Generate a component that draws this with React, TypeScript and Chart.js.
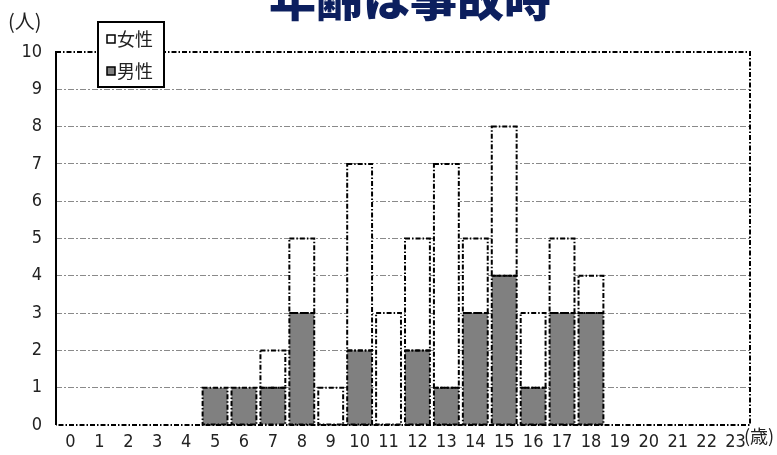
import { useEffect, useRef } from "react";
import { Chart, registerables } from "chart.js";

Chart.register(...registerables);

// Ages (years) on the horizontal axis
const ages = [
  "0", "1", "2", "3", "4", "5", "6", "7", "8", "9", "10", "11",
  "12", "13", "14", "15", "16", "17", "18", "19", "20", "21", "22", "23",
];

// Number of people by age
const femaleCounts = [0, 0, 0, 0, 0, 0, 0, 1, 2, 1, 5, 3, 3, 6, 2, 4, 2, 2, 1, 0, 0, 0, 0, 0];
const maleCounts = [0, 0, 0, 0, 0, 1, 1, 1, 3, 0, 2, 0, 2, 1, 3, 4, 1, 3, 3, 0, 0, 0, 0, 0];

const femaleLabel = "女性";
const maleLabel = "男性";
const titleText = "年齢は事故時";
const yUnit = "(人)";
const xUnit = "(歳)";
const yMax = 10;

const NUM_FONT = '"Liberation Sans Narrow", "DejaVu Sans Condensed", sans-serif';
const CJK_FONT = '"Noto Sans CJK JP", "Noto Sans", sans-serif';
const DASH_DOT = [5, 2, 1.5, 2];

// Dash-dot outlines around every bar segment
const barOutlinePlugin = {
  id: "barOutline",
  afterDatasetsDraw(chart: any) {
    const ctx = chart.ctx;
    ctx.save();
    ctx.strokeStyle = "#000";
    ctx.lineWidth = 2;
    ctx.setLineDash(DASH_DOT);
    chart.data.datasets.forEach((ds: any, i: number) => {
      const meta = chart.getDatasetMeta(i);
      meta.data.forEach((el: any, j: number) => {
        if (!ds.data[j]) return;
        const { x, y, base, width } = el.getProps(["x", "y", "base", "width"], true);
        ctx.strokeRect(x - width / 2, y, width, base - y);
      });
    });
    ctx.restore();
  },
};

// Plot frame: solid left axis, dash-dot on the other three sides
const framePlugin = {
  id: "frame",
  afterDatasetsDraw(chart: any) {
    const { ctx, chartArea: a } = chart;
    ctx.save();
    ctx.strokeStyle = "#000";
    ctx.lineWidth = 2;
    ctx.setLineDash(DASH_DOT);
    ctx.beginPath();
    ctx.moveTo(a.left, a.top);
    ctx.lineTo(a.right, a.top);
    ctx.lineTo(a.right, a.bottom);
    ctx.lineTo(a.left, a.bottom);
    ctx.stroke();
    ctx.setLineDash([]);
    ctx.lineWidth = 2;
    ctx.beginPath();
    ctx.moveTo(a.left, a.top - 1);
    ctx.lineTo(a.left, a.bottom);
    ctx.stroke();
    ctx.restore();
  },
};

// Title, unit captions and the boxed legend
const decorPlugin = {
  id: "decor",
  afterDraw(chart: any) {
    const { ctx, chartArea: a } = chart;
    ctx.save();

    ctx.fillStyle = "#0c1f5e";
    ctx.font = `900 47px ${CJK_FONT}`;
    ctx.textAlign = "center";
    ctx.textBaseline = "alphabetic";
    ctx.fillText(titleText, 410, 16);

    ctx.fillStyle = "#222";
    ctx.font = `20px ${CJK_FONT}`;
    ctx.textAlign = "left";
    ctx.textBaseline = "middle";
    ctx.fillText(yUnit, 8, 21);
    ctx.font = `18px ${CJK_FONT}`;
    ctx.fillText(xUnit, a.right - 6, 436);

    // legend box
    const bx = 98, by = 22, bw = 66, bh = 65;
    ctx.fillStyle = "#fff";
    ctx.fillRect(bx, by, bw, bh);
    ctx.strokeStyle = "#000";
    ctx.lineWidth = 2;
    ctx.strokeRect(bx, by, bw, bh);

    const items = [chart.data.datasets[1], chart.data.datasets[0]];
    items.forEach((ds: any, k: number) => {
      const cy = by + 17 + k * 32;
      ctx.fillStyle = ds.backgroundColor;
      ctx.fillRect(107, cy - 4, 8, 8);
      ctx.strokeStyle = "#000";
      ctx.lineWidth = 1.5;
      ctx.strokeRect(107, cy - 4, 8, 8);
      ctx.fillStyle = "#222";
      ctx.font = `18px ${CJK_FONT}`;
      ctx.textBaseline = "middle";
      ctx.fillText(ds.label, 117, cy);
    });
    ctx.restore();
  },
};

export default function App() {
  const canvasRef = useRef<HTMLCanvasElement | null>(null);

  useEffect(() => {
    const canvas = canvasRef.current;
    if (!canvas) return;
    const chart = new Chart(canvas, {
      type: "bar",
      data: {
        labels: ages,
        datasets: [
          {
            label: maleLabel,
            data: maleCounts,
            backgroundColor: "#808080",
            borderWidth: 0,
            barPercentage: 0.86,
            categoryPercentage: 1,
          },
          {
            label: femaleLabel,
            data: femaleCounts,
            backgroundColor: "#ffffff",
            borderWidth: 0,
            barPercentage: 0.86,
            categoryPercentage: 1,
          },
        ],
      },
      options: {
        responsive: false,
        animation: false,
        layout: { padding: { top: 52, right: 27, left: 0, bottom: 0 } },
        plugins: {
          legend: { display: false },
          title: { display: false },
          tooltip: { enabled: false },
        },
        scales: {
          x: {
            stacked: true,
            grid: { display: false, drawTicks: false },
            border: { display: false },
            ticks: {
              padding: 7,
              color: "#222",
              font: { family: NUM_FONT, size: 18 },
              maxRotation: 0,
              autoSkip: false,
            },
            afterFit(scale: any) {
              scale.height = 30;
            },
          },
          y: {
            stacked: true,
            min: 0,
            max: yMax,
            grid: {
              drawTicks: false,
              lineWidth: 1,
              color: (c: any) =>
                c.tick && (c.tick.value === 0 || c.tick.value === yMax)
                  ? "rgba(0,0,0,0)"
                  : "#8a8a8a",
            },
            border: { display: false, dash: [6, 2, 2, 2] },
            ticks: {
              stepSize: 1,
              padding: 14,
              color: "#222",
              font: { family: NUM_FONT, size: 18 },
            },
            afterFit(scale: any) {
              scale.width = 56;
            },
          },
        },
      },
      plugins: [barOutlinePlugin, framePlugin, decorPlugin],
    });
    return () => chart.destroy();
  }, []);

  return (
    <div style={{ position: "absolute", left: 0, top: 0, width: 777, height: 455, background: "#fff" }}>
      <canvas ref={canvasRef} width={777} height={455} style={{ display: "block" }} />
    </div>
  );
}
